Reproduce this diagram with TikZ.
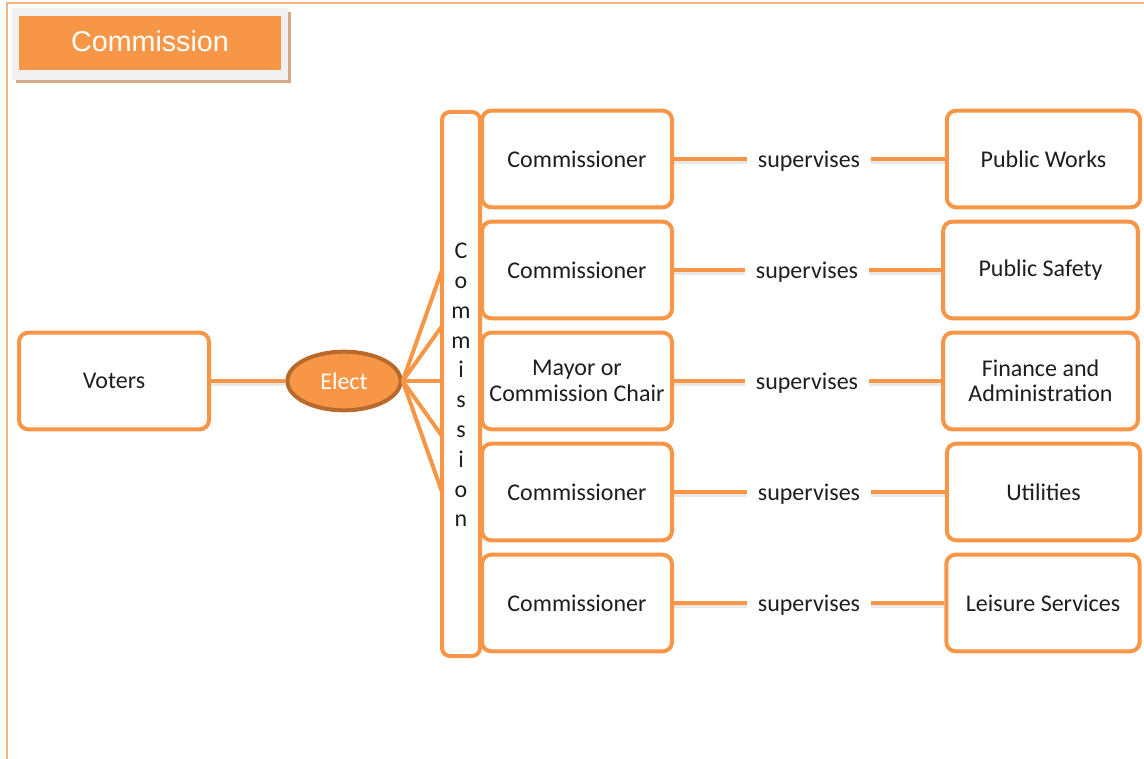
\documentclass[tikz,border=0pt]{standalone}
\usepackage{fontspec}
\setmainfont{Carlito}
\newfontfamily\titlefont{Liberation Sans}
\usetikzlibrary{shapes.geometric}
\definecolor{org}{HTML}{F79646}
\definecolor{lorg}{HTML}{F8B57E}
\definecolor{brd}{HTML}{B8692C}
\definecolor{txt}{HTML}{1E1E1E}
\definecolor{tan}{HTML}{D4A985}
\definecolor{lgr}{HTML}{F0F0F0}
\tikzset{
  box/.style={draw=org, line width=3pt, rounded corners=7pt, fill=white,
    minimum width=142.5pt, minimum height=72.5pt, align=center,
    text=txt, font=\fontsize{18}{20}\selectfont, inner sep=0pt},
  sup/.style={text=txt, font=\fontsize{18}{20}\selectfont, inner sep=0pt, minimum width=92pt, minimum height=18pt},
  conn/.style={draw=org, line width=3pt},
  shad/.style={draw=black!30, line width=3pt, opacity=0.3},
  fan/.style={draw=org, line width=3pt}
}
\begin{document}
\begin{tikzpicture}[x=0.75pt,y=-0.75pt]
\useasboundingbox (0,0) rectangle (1144,759);
% frame
\draw[lorg, line width=1.2pt] (7,759) -- (7,3) -- (1144,3);
% title
\fill[tan] (16,12) rectangle (291,83);
\fill[lgr] (12,8) rectangle (288,80);
\fill[org] (19,16) rectangle (281,70);
\node[text=white, font=\titlefont\fontsize{21.5}{24}\selectfont] (title) at (150,41) {Commission};
% voters and elect
\node[box, minimum width=142.5pt] (voters) at (114,381) {Voters};
\node[ellipse, draw=brd, fill=org, line width=3pt, minimum width=85pt, minimum height=44pt, inner sep=0pt,
  text=white, font=\fontsize{18}{20}\selectfont] (elect) at (344,381) {Elect};
\draw[shad] ([yshift=-2.5pt]voters.east) -- ([yshift=-2.5pt]elect.west);
\draw[conn] (voters.east) -- (elect.west);
% commission bar
\node[draw=org, line width=3pt, rounded corners=6pt, minimum width=28.5pt, minimum height=408pt, inner sep=0pt] (bar) at (461,384) {};
\node[text=txt, font=\fontsize{18}{22.35}\selectfont, align=center, inner sep=0pt] (barlabel) at (461,385) {C\\o\\m\\m\\i\\s\\s\\i\\o\\n};
% fan
\coordinate (f1) at (442,270);
\coordinate (f2) at (442,326);
\coordinate (f3) at (442,381);
\coordinate (f4) at (442,436);
\coordinate (f5) at (442,492);
\foreach \f in {f1,f2,f3,f4,f5} { \draw[fan] (elect.east) -- (\f); }
% rows
\node[box] (c1) at (577,159) {Commissioner};
\node[box] (c2) at (577,270) {Commissioner};
\node[box] (c3) at (577,381) {Mayor or\\[-1pt]Commission Chair};
\node[box] (c4) at (577,492) {Commissioner};
\node[box] (c5) at (577,603) {Commissioner};
\node[box, minimum width=145pt] (d1) at (1043.5,159) {Public Works};
\node[box, minimum width=146pt] (d2) at (1040.5,270) {Public Safety};
\node[box, minimum width=146pt] (d3) at (1040.5,381) {Finance and\\[-1pt]Administration};
\node[box, minimum width=145pt] (d4) at (1043.5,492) {Utilities};
\node[box, minimum width=145pt] (d5) at (1043,603) {Leisure Services};
\node[sup] (s1) at (809,161) {supervises};
\node[sup] (s2) at (807,272) {supervises};
\node[sup] (s3) at (807,383) {supervises};
\node[sup] (s4) at (809,494) {supervises};
\node[sup] (s5) at (809,605) {supervises};
\foreach \i in {1,...,5} {
  \draw[shad] ([yshift=-2.5pt]c\i.east) -- ([yshift=-2.5pt]c\i.east -| s\i.west);
  \draw[shad] ([yshift=-2.5pt]d\i.west -| s\i.east) -- ([yshift=-2.5pt]d\i.west);
  \draw[conn] (c\i.east) -- (c\i.east -| s\i.west);
  \draw[conn] (d\i.west -| s\i.east) -- (d\i.west);
}
\end{tikzpicture}
\end{document}
